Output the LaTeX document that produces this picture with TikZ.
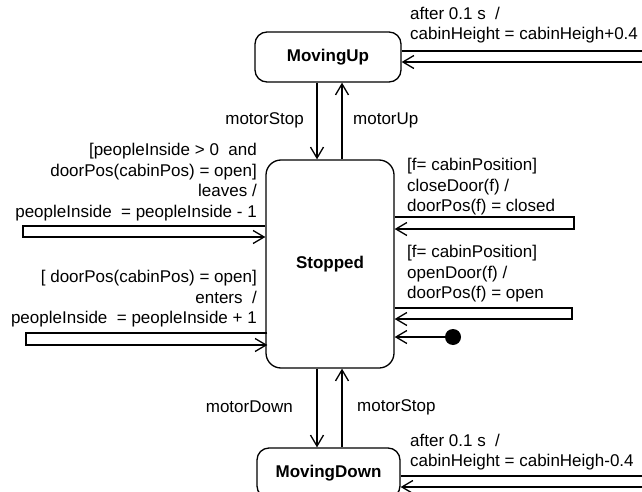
\documentclass[tikz,border=0pt]{standalone}
\usepackage{fontspec}
\setmainfont{Liberation Sans}
\usetikzlibrary{arrows.meta}
\begin{document}
\begin{tikzpicture}[x=1pt,y=-1pt,
  every node/.style={font=\fontsize{17}{20.5}\selectfont, inner sep=0pt},
  state/.style={draw, line width=1.3pt, rounded corners=#1, font=\fontsize{17}{20.5}\selectfont\bfseries},
  arr/.style={line width=1.3pt, -{Straight Barb[length=11pt,width=13pt,line width=1.3pt]}},
  lbl/.style={align=left},
  lblr/.style={align=right}]
\clip (0,0) rectangle (642,492);

% states
\node[state=12pt, minimum width=146pt, minimum height=50pt] (mu) at (328,57) {MovingUp};
\node[state=15pt, minimum width=128pt, minimum height=208pt] (st) at (330,264) {Stopped};
\node[state=12pt, minimum width=143pt, minimum height=50pt] (md) at (328.5,473) {MovingDown};

% transitions between the states
\draw[arr] ([xshift=-11pt]mu.south) -- ([xshift=-11pt]mu.south |- st.north) coordinate (t1);
\draw[arr] ([xshift=14pt]mu.south |- st.north) -- ([xshift=14pt]mu.south) coordinate (t2);
\draw[arr] ([xshift=-11pt]mu.south |- st.south) -- ([xshift=-11pt]mu.south |- md.north) coordinate (t3);
\draw[arr] ([xshift=14pt]mu.south |- md.north) -- ([xshift=14pt]mu.south |- st.south) coordinate (t4);
\node[anchor=east] (lmstop) at (304,120) {motorStop};
\node[anchor=west] (lmup) at (353,120) {motorUp};
\node[anchor=east] (lmdown) at (293,407) {motorDown};
\node[anchor=west] (lmstop2) at (357,407) {motorStop};

% self-loops of the moving states
\draw[arr] ([yshift=6pt]mu.east) -- ++(260,0) -- ++(0,11) coordinate (u1) -- (u1 -| mu.east);
\node[lbl, anchor=west] (lup) at (410,25) {after 0.1 s\ \ /\\cabinHeight = cabinHeigh+0.4};
\draw[arr] ([yshift=-3pt]md.east) -- ++(260,0) -- ++(0,11) coordinate (d1) -- (d1 -| md.east);
\node[lbl, anchor=west] (ldown) at (410,452) {after 0.1 s\ \ /\\cabinHeight = cabinHeigh-0.4};

% self-loops of Stopped, left side
\coordinate (l1) at (23,226);
\draw[arr] (st.west |- l1) -- (l1) -- ++(0,11) coordinate (l1b) -- (l1b -| st.west);
\node[lblr, anchor=east] (lleave) at (257,182) {[peopleInside > 0\ \ and\\doorPos(cabinPos) = open]\hspace{5pt}\\leaves /\\peopleInside\ \ = peopleInside - 1\hspace{2pt}};
\coordinate (l2) at (26,333);
\draw[arr] ([xshift=2pt]st.west |- l2) -- (l2) -- ++(0,12) coordinate (l2b) -- ([xshift=2pt]l2b -| st.west);
\node[lblr, anchor=east] (lenter) at (257,299) {[ doorPos(cabinPos) = open]\hspace{5pt}\\enters\ \ /\\peopleInside\ \ = peopleInside + 1\hspace{4pt}};

% self-loops of Stopped, right side
\coordinate (r1) at (574,217);
\draw[arr] (st.east |- r1) -- (r1) -- ++(0,12) coordinate (r1b) -- (r1b -| st.east);
\node[lbl, anchor=west] (lclose) at (407,187) {[f= cabinPosition]\\closeDoor(f) /\\doorPos(f) = closed};
\coordinate (r2) at (572,308);
\draw[arr] (st.east |- r2) -- (r2) -- ++(0,11) coordinate (r2b) -- (r2b -| st.east);
\node[lbl, anchor=west] (lopen) at (407,274) {[f= cabinPosition]\\openDoor(f) /\\doorPos(f) = open};

% initial pseudo-state
\node[circle, fill=black, minimum size=16pt] (init) at (453,337) {};
\draw[arr] (init) -- (init -| st.east);
\end{tikzpicture}
\end{document}
